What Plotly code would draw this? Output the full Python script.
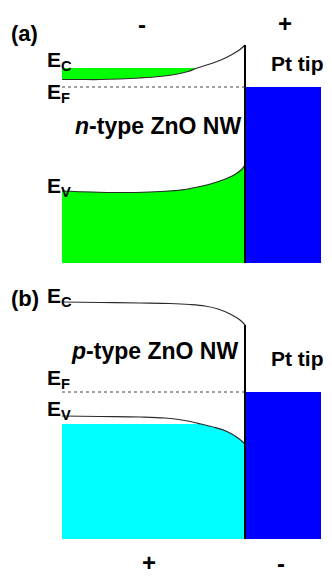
import plotly.graph_objects as go

# ---------------- data (diagram coordinates: x = position, y = level, top-down) ----------
wire_left = 62
interface_x = 245
tip_right = 321

# panel (a) n-type
bottom_a = 263
ef_a = 87
ec_fill_top_a = 68
pos_ec_a = [62, 80, 100, 120, 140, 160, 175, 188, 197, 210, 222, 232, 240, 245]
ec_a = [79.5, 79.5, 79.5, 79, 78, 76.5, 74.5, 71.5, 68, 64, 59.5, 54.5, 49.5, 45]
pos_ev_a = [62, 90, 120, 150, 170, 185, 200, 212, 224, 234, 241, 245]
ev_a = [191, 192, 192.5, 192, 191, 189.5, 186.5, 183.5, 179.5, 175, 170, 165]

# panel (b) p-type
bottom_b = 539
ef_b = 392
ev_fill_top_b = 424
pos_ec_b = [62, 100, 140, 170, 190, 205, 218, 230, 240, 245]
ec_b = [302, 302.5, 303, 303.5, 304.5, 306, 309, 314, 320, 325]
pos_ev_b = [62, 100, 140, 165, 185, 201, 215, 228, 238, 245]
ev_b = [416, 416.5, 417, 418, 420.5, 424, 427.5, 432, 438, 444]

GREEN = "#00ff00"
CYAN = "#00ffff"
BLUE = "#0000ff"
CURVE = "#2a2a2a"

# page has an 8px body margin: figure covers page pixels 8..332 x 8..576
PAGE_OFF = 8
W, H = 332, 576

fig = go.Figure()

def poly(xs, ys, color):
    fig.add_trace(go.Scatter(x=xs, y=ys, mode="lines", fill="toself", fillcolor=color,
                             line=dict(width=0, color=color), hoverinfo="skip",
                             showlegend=False))

# (a) green conduction pocket (between flat level and curve where curve lies below it)
xs = [p for p, v in zip(pos_ec_a, ec_a) if v >= ec_fill_top_a]
ys = [v for v in ec_a if v >= ec_fill_top_a]
poly(xs + [xs[-1], xs[0]], ys + [ec_fill_top_a, ec_fill_top_a], GREEN)
# (a) green valence band
poly(pos_ev_a + [interface_x, wire_left], ev_a + [bottom_a, bottom_a], GREEN)
# (b) cyan valence band
xs = [p for p, v in zip(pos_ev_b, ev_b) if v >= ev_fill_top_b]
ys = [v for v in ev_b if v >= ev_fill_top_b]
poly([wire_left] + xs + [interface_x, wire_left], [ev_fill_top_b] + ys + [bottom_b, bottom_b], CYAN)
# Pt tip boxes
poly([interface_x, tip_right, tip_right, interface_x], [ef_a, ef_a, bottom_a, bottom_a], BLUE)
poly([interface_x, tip_right, tip_right, interface_x], [ef_b, ef_b, bottom_b, bottom_b], BLUE)

# band curves
for px, py in [(pos_ec_a, ec_a), (pos_ev_a, ev_a), (pos_ec_b, ec_b), (pos_ev_b, ev_b)]:
    fig.add_trace(go.Scatter(x=px, y=py, mode="lines", line=dict(color=CURVE, width=1.2, shape="spline"),
                             hoverinfo="skip", showlegend=False))

# Fermi levels (dotted)
for lvl in [ef_a, ef_b]:
    fig.add_trace(go.Scatter(x=[wire_left, interface_x], y=[lvl, lvl], mode="lines",
                             line=dict(color="#444444", width=1, dash="dot"),
                             hoverinfo="skip", showlegend=False))

# interfaces
fig.add_trace(go.Scatter(x=[interface_x, interface_x], y=[ec_a[-1], bottom_a], mode="lines",
                         line=dict(color="black", width=2), hoverinfo="skip", showlegend=False))
fig.add_trace(go.Scatter(x=[interface_x, interface_x], y=[ec_b[-1], bottom_b], mode="lines",
                         line=dict(color="black", width=2), hoverinfo="skip", showlegend=False))

FONT = "Liberation Sans, Arial, sans-serif"

def label(x, y, text, size=20, xanchor="center"):
    fig.add_annotation(x=x, y=y, text=text, showarrow=False, xanchor=xanchor, yanchor="middle",
                       font=dict(family=FONT, size=size, color="black", weight="bold"))

label(9, 33, "(a)", 22, "left")
label(142, 24, "-", 24)
label(285, 23, "+", 24)
label(297, 63, "Pt tip", 21)
label(45, 61, "E<sub>C</sub>", 21, "left")
label(45, 93, "E<sub>F</sub>", 21, "left")
label(45, 187, "E<sub>V</sub>", 21, "left")
label(158, 126, "<i>n</i>-type ZnO NW", 23)

label(9, 298, "(b)", 22, "left")
label(45, 297, "E<sub>C</sub>", 21, "left")
label(154, 351, "<i>p</i>-type ZnO NW", 23)
label(297, 358, "Pt tip", 21)
label(45, 379, "E<sub>F</sub>", 21, "left")
label(45, 410, "E<sub>V</sub>", 21, "left")
label(149, 562, "+", 24)
label(281, 563, "-", 24)

fig.update_layout(
    width=W - PAGE_OFF, height=H - PAGE_OFF,
    margin=dict(l=0, r=0, t=0, b=0),
    paper_bgcolor="white", plot_bgcolor="white",
    xaxis=dict(range=[PAGE_OFF, W], visible=False, fixedrange=True),
    yaxis=dict(range=[H, PAGE_OFF], visible=False, fixedrange=True),
)

fig.write_html("out.html")
